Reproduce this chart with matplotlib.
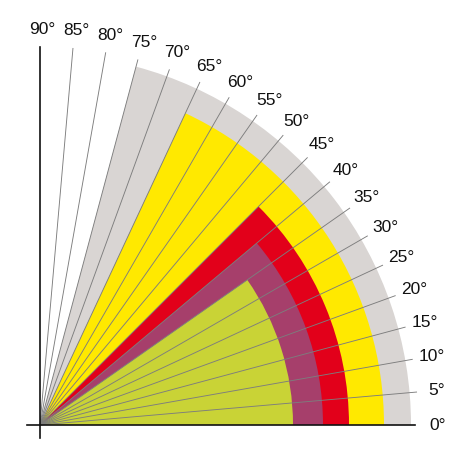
import matplotlib
matplotlib.use("Agg")
import matplotlib.pyplot as plt
from matplotlib.patches import Wedge
import numpy as np

# ray angles every 5 degrees
ray_angles = list(range(0, 95, 5))
ray_labels = [f"{a}°" for a in ray_angles]

# sectors: opening angle (deg) and radius, outermost first
sector_angles = [75, 65, 45, 40, 35]
sector_radii = [371, 344, 309, 283, 253]
sector_colors = ["#d9d5d3", "#ffe900", "#e2001a", "#a63f6b", "#c9d336"]


def main():
    fig = plt.figure(figsize=(4.74, 4.66), dpi=100)
    ax = fig.add_axes([0, 0, 1, 1])
    ax.set_xlim(-40, 434)
    ax.set_ylim(-41, 425)
    ax.set_aspect("equal")
    ax.axis("off")

    for ang, r, col in zip(sector_angles, sector_radii, sector_colors):
        ax.add_patch(Wedge((0, 0), r, 0, ang, facecolor=col,
                           edgecolor="none", zorder=1))

    ray_len = 378
    label_r = 396
    for ang, lab in zip(ray_angles, ray_labels):
        t = np.radians(ang)
        if 0 < ang < 90:
            ax.plot([0, ray_len * np.cos(t)], [0, ray_len * np.sin(t)],
                    color="#7d7d7d", lw=0.65, zorder=2)
        ax.text(label_r * np.cos(t) + 2, label_r * np.sin(t), lab,
                ha="center", va="center", fontsize=12.5,
                family="Liberation Sans", color="#111111")

    # axes
    ax.plot([-13, 375], [0, 0], color="#111111", lw=1.2, zorder=3)
    ax.plot([0, 0], [-13, 378], color="#111111", lw=1.2, zorder=3)

    fig.savefig("out.png", dpi=100)


if __name__ == "__main__":
    main()
